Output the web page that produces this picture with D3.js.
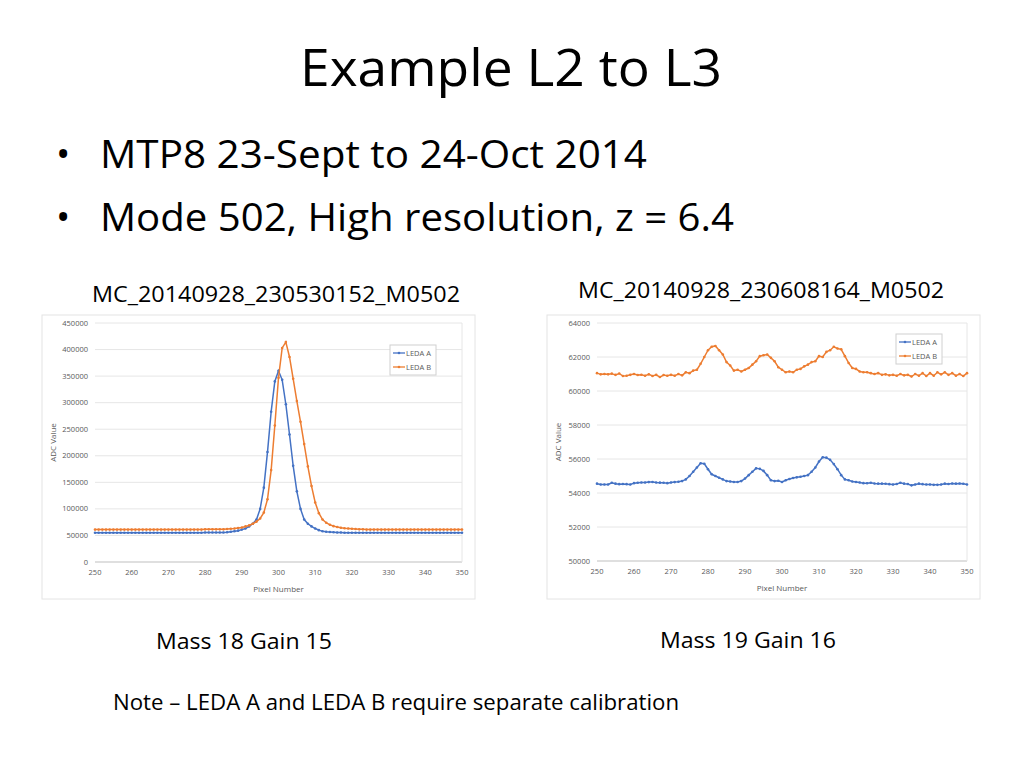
<!DOCTYPE html>
<html><head><meta charset="utf-8">
<script src="https://cdn.jsdelivr.net/npm/d3@7"></script>
<style>body{margin:0;background:#fff}text{font-family:"Open Sans","Liberation Sans",sans-serif}</style>
</head><body>
<svg id="slide" width="1024" height="768"></svg>
<script>
// pixel numbers 250..350
const pixels = d3.range(250, 351);
const xTicks = d3.range(250, 351, 10);

// Mass 18 Gain 15
const leftA = [
  55000,55000,55000,55000,55000,55000,55000,55000,55000,55000,
  55000,55000,55000,55000,55000,55000,55000,55000,55000,55000,
  55000,55000,55000,55000,55000,55000,55000,55000,55000,55000,
  55500,55500,55500,55500,55500,55500,56000,57000,58000,59000,
  61000,63000,67000,72000,80000,100000,140000,207000,283000,340000,
  360000,343000,297000,240000,181000,133000,100000,80000,72000,67000,
  63000,60000,58000,57000,56500,56000,55500,55500,55000,55000,
  55000,55000,55000,55000,55000,55000,55000,55000,55000,55000,
  55000,55000,55000,55000,55000,55000,55000,55000,55000,55000,
  55000,55000,55000,55000,55000,55000,55000,55000,55000,55000,
  55000
];
const leftB = [
  61000,61000,61000,61000,61000,61000,61000,61000,61000,61000,
  61000,61000,61000,61000,61000,61000,61000,61000,61000,61000,
  61000,61000,61000,61000,61000,61000,61000,61000,61000,61000,
  61500,61500,61500,61500,61500,61500,62000,62500,63000,64000,
  65000,67000,69000,72000,76000,82000,93000,118000,173000,257000,
  347000,403000,414000,386000,345000,303000,264000,222000,180000,143000,
  112000,92000,80000,74000,70000,67500,66000,64500,63500,63000,
  62500,62000,61500,61500,61000,61000,61000,61000,61000,61000,
  61000,61000,61000,61000,61000,61000,61000,61000,61000,61000,
  61000,61000,61000,61000,61000,61000,61000,61000,61000,61000,
  61000
];

// Mass 19 Gain 16
const rightA = [
  54550,54500,54500,54500,54600,54550,54520,54530,54520,54500,
  54580,54600,54620,54620,54640,54650,54620,54610,54600,54580,
  54620,54640,54660,54700,54800,55000,55250,55500,55750,55720,
  55400,55100,55000,54900,54800,54700,54680,54650,54650,54700,
  54850,55050,55250,55450,55420,55300,55050,54750,54700,54720,
  54650,54750,54820,54880,54920,54960,55000,55050,55250,55500,
  55850,56100,56080,55950,55700,55400,55050,54800,54750,54680,
  54650,54620,54580,54570,54600,54560,54550,54550,54540,54520,
  54500,54530,54600,54550,54530,54450,54500,54550,54520,54500,
  54500,54480,54480,54500,54550,54530,54560,54550,54560,54540,
  54500
];
const rightB = [
  61050,60980,61000,60980,61020,60950,61030,60880,60900,60950,
  61000,60940,60960,60900,60980,60880,60950,60820,60940,60900,
  60950,60900,61000,60920,61100,61050,61200,61250,61600,62000,
  62400,62600,62650,62400,62150,61700,61500,61200,61250,61150,
  61250,61350,61550,61750,62050,62100,62150,61950,61750,61400,
  61250,61100,61150,61100,61250,61300,61450,61550,61700,61750,
  62050,62000,62300,62400,62600,62500,62450,62050,61650,61350,
  61300,61150,61100,61100,61050,61000,61050,60950,60980,60920,
  60950,60900,61000,60920,60950,60850,61000,60900,61050,60880,
  61050,60900,61100,60980,61100,60950,61050,60900,61000,60880,
  61050
];

const leftYTicks = d3.range(0, 450001, 50000);
const rightYTicks = d3.range(50000, 64001, 2000);
const seriesNames = ['LEDA A', 'LEDA B'];
const seriesColors = ['#4472c4', '#ed7d31'];

const svg = d3.select('#slide');

// slide text, stretched to the widths of the original Calibri lines
function label(x, y, size, width, txt) {
  svg.append('text').attr('x', x).attr('y', y).style('font-size', size + 'px')
    .attr('textLength', width).attr('lengthAdjust', 'spacingAndGlyphs').text(txt);
}
label(300, 86, 52, 422, 'Example L2 to L3');
const bullets = ['MTP8 23-Sept to 24-Oct 2014', 'Mode 502, High resolution, z = 6.4'];
const bulletWidths = [547, 634];
bullets.forEach((b, i) => {
  const y = 168 + i * 63;
  svg.append('text').attr('x', 56).attr('y', y).style('font-size', '38px').text('•');
  label(100, y, 38, bulletWidths[i], b);
});
label(92, 302, 21, 368, 'MC_20140928_230530152_M0502');
label(578, 298, 21, 366, 'MC_20140928_230608164_M0502');
label(156, 649, 21, 176, 'Mass 18  Gain 15');
label(660, 648, 21, 176, 'Mass 19  Gain 16');
label(113, 710, 21, 566, 'Note – LEDA A and LEDA B require separate calibration');

function drawChart(box, plot, yDomain, yTicks, series, legendPos) {
  svg.append('rect').attr('x', box.x).attr('y', box.y).attr('width', box.w).attr('height', box.h)
    .attr('fill', '#fff').attr('stroke', '#e4e4e4');
  const x = d3.scaleLinear().domain([250, 350]).range([plot.x0, plot.x1]);
  const y = d3.scaleLinear().domain(yDomain).range([plot.y1, plot.y0]);
  const g = svg.append('g');

  // gridlines
  g.selectAll('.grid').data(yTicks).join('line')
    .attr('x1', plot.x0).attr('x2', plot.x1)
    .attr('y1', d => y(d)).attr('y2', d => y(d))
    .attr('stroke', d => d === yDomain[0] ? '#bfbfbf' : '#e6e6e6');
  g.append('line').attr('x1', plot.x1).attr('x2', plot.x1).attr('y1', plot.y0).attr('y2', plot.y1)
    .attr('stroke', '#e6e6e6');

  g.selectAll('.yt').data(yTicks).join('text')
    .attr('x', plot.x0 - 7).attr('y', d => y(d) + 2.5).attr('text-anchor', 'end')
    .style('font-size', '7.5px').style('fill', '#595959').text(d => d);
  g.selectAll('.xt').data(xTicks).join('text')
    .attr('x', d => x(d)).attr('y', plot.y1 + 13).attr('text-anchor', 'middle')
    .style('font-size', '7.5px').style('fill', '#595959').text(d => d);
  g.append('text').attr('x', (plot.x0 + plot.x1) / 2).attr('y', plot.y1 + 30)
    .attr('text-anchor', 'middle').style('font-size', '8px').style('fill', '#595959').text('Pixel Number');
  g.append('text').attr('transform', `translate(${box.x + 14},${(plot.y0 + plot.y1) / 2}) rotate(-90)`)
    .attr('text-anchor', 'middle').style('font-size', '8px').style('fill', '#595959').text('ADC Value');

  const line = d3.line().x((d, i) => x(pixels[i])).y(d => y(d));
  series.forEach((s, k) => {
    g.append('path').datum(s).attr('d', line).attr('fill', 'none')
      .attr('stroke', seriesColors[k]).attr('stroke-width', 1.5);
    g.selectAll(null).data(s).join('circle')
      .attr('cx', (d, i) => x(pixels[i])).attr('cy', d => y(d)).attr('r', 1.3)
      .attr('fill', seriesColors[k]);
  });

  // legend
  const lg = g.append('g').attr('transform', `translate(${legendPos[0]},${legendPos[1]})`);
  lg.append('rect').attr('width', 46).attr('height', 30).attr('fill', '#fff').attr('stroke', '#d0d0d0');
  seriesNames.forEach((n, k) => {
    const ly = 8 + k * 14;
    lg.append('line').attr('x1', 3).attr('x2', 15).attr('y1', ly).attr('y2', ly)
      .attr('stroke', seriesColors[k]).attr('stroke-width', 1.3);
    lg.append('circle').attr('cx', 9).attr('cy', ly).attr('r', 1.3).attr('fill', seriesColors[k]);
    lg.append('text').attr('x', 16).attr('y', ly + 2.5).style('font-size', '7.5px')
      .style('fill', '#595959').text(n);
  });
}

drawChart({ x: 42, y: 315, w: 433, h: 284 }, { x0: 95, x1: 462, y0: 323, y1: 562 },
  [0, 450000], leftYTicks, [leftA, leftB], [390, 345]);
drawChart({ x: 547, y: 315, w: 433, h: 284 }, { x0: 597, x1: 967, y0: 323, y1: 561 },
  [50000, 64000], rightYTicks, [rightA, rightB], [896, 334]);
</script>
</body></html>
